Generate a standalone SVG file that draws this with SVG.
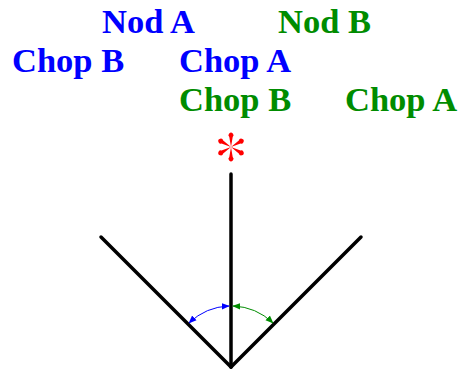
<svg xmlns="http://www.w3.org/2000/svg" width="459" height="370" viewBox="0 0 459 370">
<style>
.t{font-family:"Liberation Serif","Times New Roman",serif;font-weight:bold;font-size:34.5px}
.b{fill:#0000ff}.g{fill:#008c00}
.ln{stroke:#000;stroke-width:3.5;fill:none;stroke-linecap:round}
.arc{fill:none;stroke-width:1}
</style>
<defs>
<marker id="ab" viewBox="0 0 10 10" refX="9" refY="5" markerWidth="8" markerHeight="8" markerUnits="userSpaceOnUse" orient="auto-start-reverse"><path d="M0,1 L10,5 L0,9 z" fill="#0000ff"/></marker>
<marker id="ag" viewBox="0 0 10 10" refX="9" refY="5" markerWidth="8" markerHeight="8" markerUnits="userSpaceOnUse" orient="auto-start-reverse"><path d="M0,1 L10,5 L0,9 z" fill="#008c00"/></marker>
<path id="petal" d="M0,0 L-1.7,-10 A2.5,2.5 0 1 1 1.7,-10 Z" fill="#ff0000"/>
</defs>
<g id="labels">
<text id="nodA" class="t b" x="102" y="33">Nod A</text>
<text id="nodB" class="t g" x="278" y="33">Nod B</text>
<text id="chopB1" class="t b" x="12" y="72">Chop B</text>
<text id="chopA1" class="t b" x="179" y="72">Chop A</text>
<text id="chopB2" class="t g" x="179" y="111">Chop B</text>
<text id="chopA2" class="t g" x="345" y="111">Chop A</text>
</g>
<g id="star" transform="translate(231,147)">
<use href="#petal"/>
<use href="#petal" transform="rotate(60)"/>
<use href="#petal" transform="rotate(120)"/>
<use href="#petal" transform="rotate(180)"/>
<use href="#petal" transform="rotate(240)"/>
<use href="#petal" transform="rotate(300)"/>
</g>
<g id="connectors">
<line class="ln" x1="231" y1="174" x2="231" y2="367"/>
<line class="ln" x1="101" y1="237" x2="231" y2="367"/>
<line class="ln" x1="361" y1="237" x2="231" y2="367"/>
<path class="arc" stroke="#0000ff" d="M229,306 A61,61 0 0 0 189.1,322.9" marker-end="url(#ab)" marker-start="url(#ab)"/>
<path class="arc" stroke="#008c00" d="M233,306 A61,61 0 0 1 272.9,322.9" marker-end="url(#ag)" marker-start="url(#ag)"/>
</g>
</svg>
